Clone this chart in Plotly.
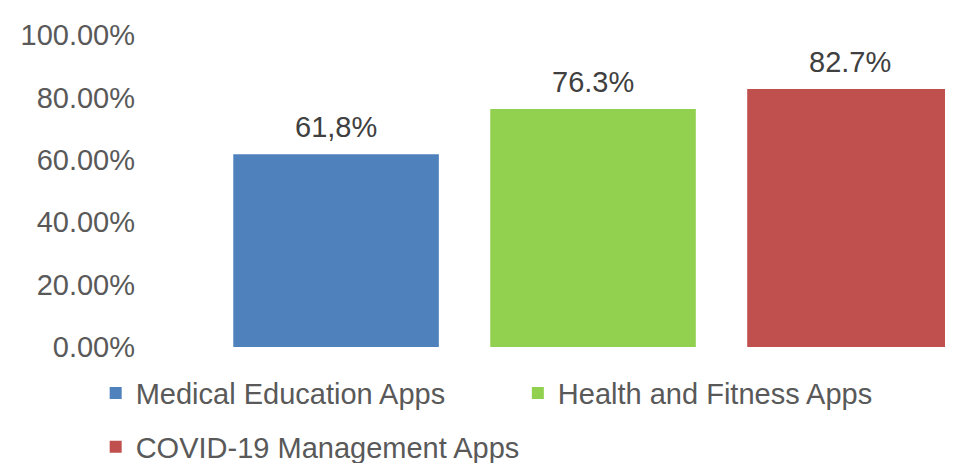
import plotly.graph_objects as go

categories = ["Medical Education Apps", "Health and Fitness Apps", "COVID-19 Management Apps"]
values = [0.618, 0.763, 0.827]
labels = ["61,8%", "76.3%", "82.7%"]
colors = ["#4F81BD", "#92D050", "#C0504D"]
tick_vals = [0, 0.2, 0.4, 0.6, 0.8, 1.0]
tick_text = ["0.00%", "20.00%", "40.00%", "60.00%", "80.00%", "100.00%"]

FONT = "Liberation Sans"
fig = go.Figure()
legends = ["legend", "legend2", "legend3"]
for i, (cat, v, col) in enumerate(zip(categories, values, colors)):
    fig.add_trace(go.Bar(
        x=[i], y=[v], name=cat, width=0.8,
        marker=dict(color=col, line=dict(width=0)),
        legend=legends[i],
    ))

for i, (v, lab) in enumerate(zip(values, labels)):
    fig.add_annotation(x=i, y=v, text=lab, showarrow=False, yanchor="bottom",
                       yshift=9, font=dict(family=FONT, size=29, color="#404040"))

leg_font = dict(family=FONT, size=29, color="#595959")
def leg(x, y):
    return dict(orientation="h", xref="container", yref="container",
                x=x, y=y, xanchor="left", yanchor="middle",
                font=leg_font, bgcolor="rgba(0,0,0,0)")

fig.update_layout(
    width=953, height=463,
    margin=dict(l=132, r=0, t=27, b=124, autoexpand=False),
    paper_bgcolor="white", plot_bgcolor="white",
    barmode="overlay",
    font=dict(family=FONT, size=29, color="#595959"),
    xaxis=dict(range=[-0.763, 2.432], showticklabels=False, showgrid=False,
               zeroline=False, showline=False, fixedrange=True),
    yaxis=dict(range=[0, 1.0], tickvals=tick_vals, ticktext=tick_text,
               showgrid=False, zeroline=False, showline=False, ticks="",
               ticklabelstandoff=4,
               tickfont=dict(family=FONT, size=29, color="#595959")),
    legend=leg(0.092, 0.168),
    legend2=leg(0.535, 0.168),
    legend3=leg(0.092, 0.052),
    showlegend=True,
)

fig.write_html("out.html")
